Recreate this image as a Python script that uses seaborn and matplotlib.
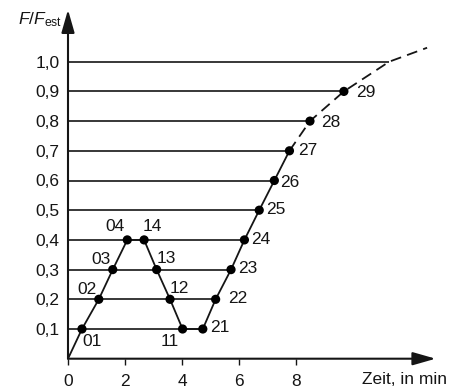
import matplotlib
matplotlib.use("Agg")
import matplotlib.pyplot as plt
import seaborn as sns
import pandas as pd

# Messpunkte (Zeit in min, F/F_est)
labels = ["01", "02", "03", "04", "14", "13", "12", "11",
          "21", "22", "23", "24", "25", "26", "27", "28", "29"]
zeit = [0.49, 1.08, 1.57, 2.08, 2.67, 3.11, 3.58, 4.02,
        4.73, 5.18, 5.72, 6.19, 6.71, 7.24, 7.77, 8.49, 9.68]
kraft = [0.1, 0.2, 0.3, 0.4, 0.4, 0.3, 0.2, 0.1,
         0.1, 0.2, 0.3, 0.4, 0.5, 0.6, 0.7, 0.8, 0.9]

# gestrichelte Fortsetzung der Kurve
kurve_zeit = [7.77, 8.49, 9.68, 11.27, 12.6]
kurve_kraft = [0.7, 0.8, 0.9, 1.0, 1.047]

# Lastniveaus und wo die Linien enden
niveaus = [0.1, 0.2, 0.3, 0.4, 0.5, 0.6, 0.7, 0.8, 0.9, 1.0]
niveau_ende = [4.73, 5.18, 5.72, 6.19, 6.71, 7.24, 7.77, 8.49, 9.68, 11.27]

x_ticks = [0, 2, 4, 6, 8]
y_tick_labels = ["0,1", "0,2", "0,3", "0,4", "0,5", "0,6", "0,7", "0,8", "0,9", "1,0"]

# Abstand der Beschriftung (Pixel) und Ausrichtung
label_pos = {
    "01": (0, -13, "left"), "02": (-2, 10, "right"), "03": (-2, 10, "right"),
    "04": (-3, 13, "right"), "14": (-1, 13, "left"), "13": (0, 11, "left"),
    "12": (0, 11, "left"), "11": (-4, -13, "right"), "21": (7, 2, "left"),
    "22": (12, 1, "left"), "23": (7, 1, "left"), "24": (7, 0, "left"),
    "25": (7, 1, "left"), "26": (6, -2, "left"), "27": (9, 0, "left"),
    "28": (11, -1, "left"), "29": (12, -1, "left"),
}

FS = 12.5
INK = "#151515"

sns.set_style("white")
plt.rcParams["font.family"] = ["Liberation Sans", "DejaVu Sans"]
plt.rcParams["mathtext.fontset"] = "custom"
plt.rcParams["mathtext.rm"] = "Liberation Sans"
plt.rcParams["mathtext.it"] = "Liberation Sans:italic"

fig = plt.figure(figsize=(4.5, 3.9), dpi=100)
ax = fig.add_axes([68 / 450, 31.3 / 390, 12.9 * 28.5 / 450, 1.175 * 297 / 390])

df = pd.DataFrame({"zeit": zeit, "kraft": kraft, "label": labels})

# Linien der Lastniveaus
ax.hlines(niveaus, 0, niveau_ende, color=INK, lw=1.2, zorder=1)

# Weg vom Ursprung über 01..04, 14..11, 21..27
pfad = pd.DataFrame({"zeit": [0] + zeit[:15], "kraft": [0] + kraft[:15]})
sns.lineplot(data=pfad, x="zeit", y="kraft", sort=False, color=INK,
             lw=1.3, ax=ax, zorder=2)
ax.plot(kurve_zeit, kurve_kraft, color=INK, lw=1.3, dashes=(6, 3.5), zorder=2)

sns.scatterplot(data=df, x="zeit", y="kraft", color="black", s=44,
                edgecolor="none", ax=ax, zorder=3)

for lab, xv, yv in zip(labels, zeit, kraft):
    dx, dy, ha = label_pos[lab]
    ax.annotate(lab, (xv, yv), xytext=(dx, dy), textcoords="offset pixels",
                ha=ha, va="center", fontsize=FS, color=INK)

ax.set_xlim(0, 12.9)
ax.set_ylim(0, 1.175)
ax.set_xticks(x_ticks)
ax.set_xticklabels([str(t) for t in x_ticks])
ax.set_yticks(niveaus)
ax.set_yticklabels(y_tick_labels)
ax.tick_params(axis="x", length=4, width=1, pad=7, labelsize=FS, colors=INK,
               direction="out", bottom=True)
ax.tick_params(axis="y", length=0, pad=6, labelsize=FS, colors=INK)
ax.set_xlabel("")
ax.set_ylabel("")
for s in ax.spines.values():
    s.set_visible(False)

# Achsen mit Pfeilen
arrow = dict(arrowstyle="-|>,head_length=0.7,head_width=0.2", color=INK,
             lw=1.5, mutation_scale=20, shrinkA=0, shrinkB=0)
ax.annotate("", xy=(1, 0), xytext=(0, 0), xycoords="axes fraction",
            textcoords="axes fraction", arrowprops=arrow, annotation_clip=False)
ax.annotate("", xy=(0, 1), xytext=(0, 0), xycoords="axes fraction",
            textcoords="axes fraction", arrowprops=arrow, annotation_clip=False)

fig.text(62 / 450, 1 - 20 / 390, r"$F/F_{\mathrm{est}}$", ha="right", va="center",
         fontsize=FS, color=INK)
fig.text(447 / 450, 1 - 380 / 390, "Zeit, in min", ha="right", va="center",
         fontsize=FS, color=INK)

fig.savefig("out.png", dpi=100)
